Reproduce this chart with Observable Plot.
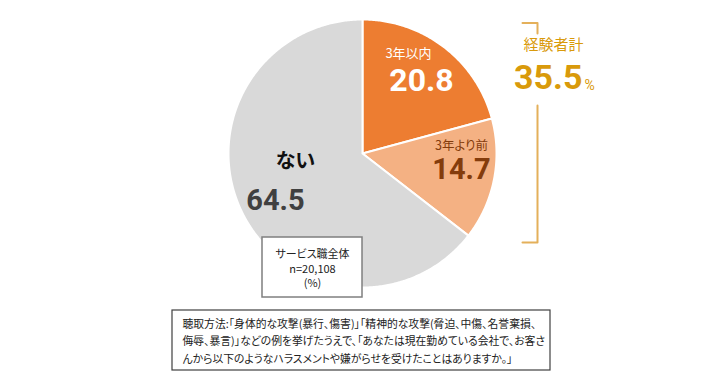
<!DOCTYPE html>
<html><head><meta charset="utf-8">
<script src="https://cdn.jsdelivr.net/npm/d3@7"></script>
<script src="https://cdn.jsdelivr.net/npm/@observablehq/plot@0.6"></script>
<style>
html,body{margin:0;padding:0;background:#fff;}
#chart svg{display:block;}
</style></head>
<body><div id="chart"></div>
<script>
// ---- data ----
const categories = ["3年以内", "3年より前", "ない"];
const values = [20.8, 14.7, 64.5];
const sliceColors = ["#ED7D31", "#F4B183", "#D9D9D9"];
const totalLabel = "経験者計";
const totalValue = 35.5;
const sampleLines = ["サービス職全体", "n=20,108", "(%)"];
const noteLines = [
  "聴取方法:「身体的な攻撃(暴行、傷害)」「精神的な攻撃(脅迫、中傷、名誉棄損、",
  "侮辱、暴言)」などの例を挙げたうえで、「あなたは現在勤めている会社で、お客さ",
  "んから以下のようなハラスメントや嫌がらせを受けたことはありますか。」"
];

// ---- layout ----
const W = 720, H = 390;
const cx = 362, cy = 153, R = 134;
const JP = "'Noto Sans CJK JP', 'Noto Sans', sans-serif";
const NUM = "Roboto, 'Noto Sans', sans-serif";
const labelPos = [[408, 53], [461, 145], [295, 161]];
const valuePos = [[421, 80], [461, 169], [275, 200]];
const labelStyle = [
  {fill: "#FFFFFF", size: 13, weight: 400},
  {fill: "#843C0C", size: 12.5, weight: 400},
  {fill: "#111111", size: 20, weight: 700}
];
const valueStyle = [
  {fill: "#FFFFFF", size: 32},
  {fill: "#843C0C", size: 29},
  {fill: "#404040", size: 29}
];
const gold = "#D99A0B";
const bracketColor = "#E4B05A";

// pie polygons (geometry sampled along each arc)
const rows = [];
let acc = 0;
values.forEach((v, i) => {
  const a0 = acc / 100 * 2 * Math.PI;
  acc += v;
  const a1 = acc / 100 * 2 * Math.PI;
  rows.push({cat: categories[i], x: cx, y: cy});
  const n = Math.max(2, Math.ceil((a1 - a0) / 0.01));
  for (let k = 0; k <= n; k++) {
    const a = a0 + (a1 - a0) * k / n;
    rows.push({cat: categories[i], x: cx + R * Math.sin(a), y: cy - R * Math.cos(a)});
  }
  rows.push({cat: categories[i], x: cx, y: cy});
});

const labels = categories.map((c, i) => ({x: labelPos[i][0], y: labelPos[i][1], text: c, ...labelStyle[i]}));
const vals = values.map((v, i) => ({x: valuePos[i][0], y: valuePos[i][1], text: v.toFixed(1), ...valueStyle[i]}));

const bracket = [
  {x: 522, y: 22.5}, {x: 537, y: 22.5}, {x: 537, y: 33}
];
const bracket2 = [
  {x: 537, y: 105}, {x: 537, y: 242}, {x: 522, y: 242}
];

const plot = Plot.plot({
  width: W, height: H, margin: 0,
  x: {domain: [0, W], range: [0, W], axis: null},
  y: {domain: [0, H], range: [0, H], axis: null},
  color: {domain: categories, range: sliceColors},
  style: {fontFeatureSettings: '"palt"', background: "white"},
  marks: [
    Plot.line(rows, {x: "x", y: "y", z: "cat", fill: "cat", stroke: "white", strokeWidth: 2, strokeLinejoin: "round", curve: "linear"}),
    ...labels.map(d => Plot.text([d], {x: "x", y: "y", text: "text", fill: d.fill, fontSize: d.size, fontWeight: d.weight, fontFamily: JP, textAnchor: "middle", lineAnchor: "middle"})),
    ...vals.map(d => Plot.text([d], {x: "x", y: "y", text: "text", fill: d.fill, fontSize: d.size, fontWeight: 700, fontFamily: NUM, textAnchor: "middle", lineAnchor: "middle"})),
    // sample box
    Plot.rect([{x1: 262, x2: 362, y1: 237, y2: 297}], {x1: "x1", x2: "x2", y1: "y1", y2: "y2", fill: "white", stroke: "#7F7F7F", strokeWidth: 1.5}),
    Plot.text(sampleLines.map((t, i) => ({t, i})), {x: 312, y: d => 254 + d.i * 14.5, text: "t", fontSize: 11, fill: "#222", fontFamily: JP, textAnchor: "middle", lineAnchor: "middle"}),
    // bracket
    Plot.line(bracket, {x: "x", y: "y", stroke: bracketColor, strokeWidth: 2}),
    Plot.line(bracket2, {x: "x", y: "y", stroke: bracketColor, strokeWidth: 2}),
    Plot.text([totalLabel], {x: 553, y: 45, text: d => d, fill: gold, fontSize: 15, fontFamily: JP, textAnchor: "middle", lineAnchor: "middle"}),
    Plot.text([totalValue], {x: 582, y: 78, text: d => d.toFixed(1), fill: gold, fontSize: 34, fontWeight: 700, fontFamily: NUM, textAnchor: "end", lineAnchor: "middle"}),
    Plot.text(["%"], {x: 584, y: 85, text: d => d, fill: gold, fontSize: 14, fontFamily: NUM, textAnchor: "start", lineAnchor: "middle"}),
    // note box
    Plot.rect([{x1: 172, x2: 550, y1: 310, y2: 370}], {x1: "x1", x2: "x2", y1: "y1", y2: "y2", fill: "white", stroke: "#404040", strokeWidth: 1.2}),
    Plot.text(noteLines.map((t, i) => ({t, i})), {x: 182, y: d => 324 + d.i * 17.5, text: "t", fontSize: 10.8, fill: "#222", fontFamily: JP, textAnchor: "start", lineAnchor: "middle"})
  ]
});
document.getElementById("chart").appendChild(plot);
</script>
</body></html>
